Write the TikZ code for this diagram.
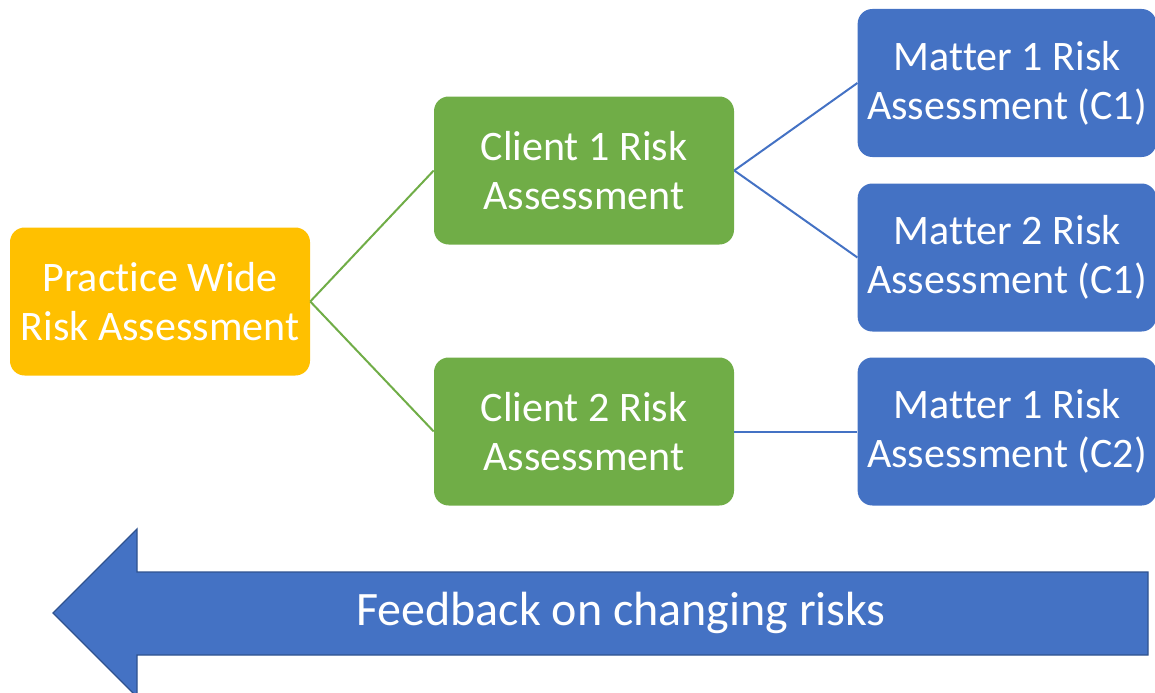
\documentclass[tikz,border=0pt]{standalone}
\usepackage{fontspec}
\setmainfont{Carlito}[Ligatures={NoCommon,NoContextual,NoRare}]
\newcommand{\nolig}{\kern0pt}
\definecolor{pworange}{HTML}{FFC000}
\definecolor{clgreen}{HTML}{70AD47}
\definecolor{mtblue}{HTML}{4472C4}
\definecolor{mtedge}{HTML}{2F528F}
\begin{document}
\begin{tikzpicture}[x=0.75pt,y=-0.75pt]
  \tikzstyle{box}=[rounded corners=11pt,minimum width=225pt,minimum height=111pt,
    inner sep=0pt,align=center,text=white,font=\fontsize{31.5}{36.5}\selectfont]
  \tikzstyle{practice}=[box,fill=pworange]
  \tikzstyle{client}=[box,fill=clgreen]
  \tikzstyle{matter}=[box,fill=mtblue,minimum width=224pt]
  \tikzstyle{link}=[draw,line width=1.5pt]
  \clip (0,0) rectangle (1155,692);
  \node[practice] (PW) at (160,301.5) {Pract\nolig ice Wide\\Risk Assessment};
  \node[client] (C1) at (584,170.5) {Client 1 Risk\\Assessment};
  \node[client] (C2) at (584,431.5) {Client 2 Risk\\Assessment};
  \node[matter] (M1C1) at (1007,83)    {Mat\nolig ter 1 Risk\\Assessment (C1)};
  \node[matter] (M2C1) at (1007,257.5) {Mat\nolig ter 2 Risk\\Assessment (C1)};
  \node[matter] (M1C2) at (1007,431.5) {Mat\nolig ter 1 Risk\\Assessment (C2)};
  % links
  \path[link,clgreen] (PW.east) -- (C1.west);
  \path[link,clgreen] (PW.east) -- (C2.west);
  \path[link,mtblue] (C1.east) -- (M1C1.west);
  \path[link,mtblue] (C1.east) -- (M2C1.west);
  \path[link,mtblue] (C2.east) -- (M1C2.west);
  % feedback arrow
  \draw[fill=mtblue,draw=mtedge,line width=1pt]
    (53,613) -- (137,529) -- (137,572) -- (1148,572) -- (1148,655)
    -- (137,655) -- (137,697) -- cycle;
  \node[text=white,font=\fontsize{36}{42}\selectfont] (FB) at (621,613) {Feedback on changing risks};
\end{tikzpicture}
\end{document}
